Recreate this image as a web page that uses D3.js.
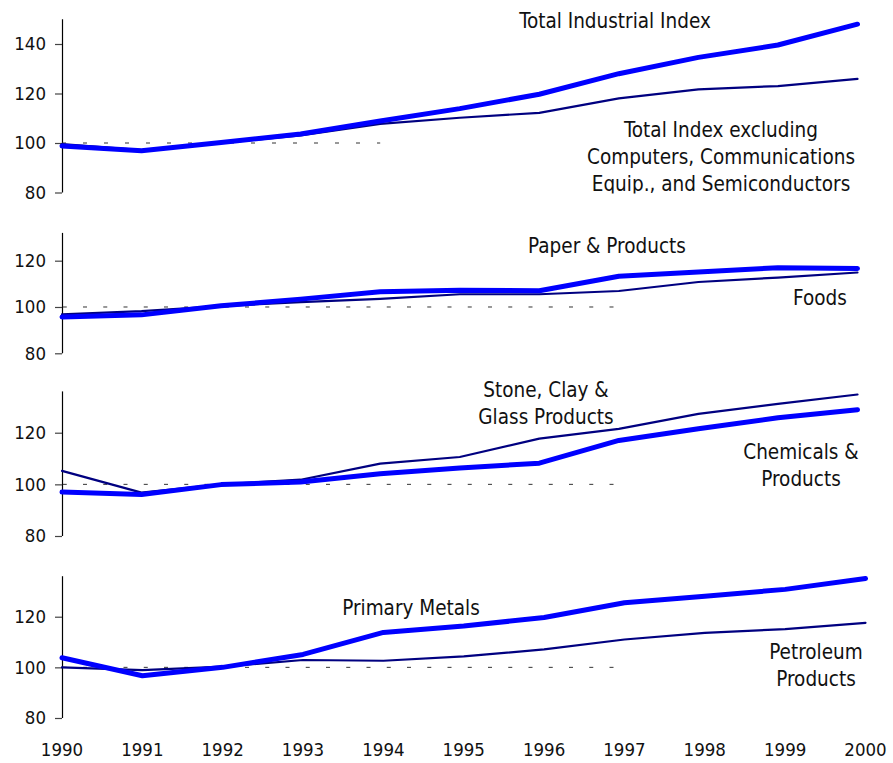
<!DOCTYPE html>
<html>
<head>
<meta charset="utf-8">
<script src="https://cdn.jsdelivr.net/npm/d3@7"></script>
<style>
  html, body { margin: 0; padding: 0; background: #fff; }
  svg text { font-family: "DejaVu Sans Condensed", "DejaVu Sans", sans-serif; fill: #111; }
</style>
</head>
<body>
<svg id="chart" width="893" height="763"></svg>
<script>
// Industrial production indexes, 1992 = 100
const years = [1990, 1991, 1992, 1993, 1994, 1995, 1996, 1997, 1998, 1999, 2000];

const totalIndex        = [98.8, 96.9, 100.2, 103.6, 108.9, 113.9, 119.7, 128.0, 134.6, 139.6, 148.0];
const totalExclHighTech = [99.6, 97.1, 100.0, 103.1, 107.7, 110.2, 112.2, 118.0, 121.7, 123.0, 125.9];

const paper = [95.7, 96.6, 100.5, 103.4, 106.6, 107.2, 107.0, 113.3, 115.1, 117.0, 116.6];
const foods = [96.8, 98.2, 100.4, 102.1, 103.5, 105.5, 105.5, 106.9, 110.8, 112.7, 114.9];

const stoneClay = [105.2, 96.8, 100.0, 101.8, 108.0, 110.6, 117.7, 121.5, 127.3, 131.2, 134.8];
const chemicals = [97.0, 96.1, 99.9, 100.9, 104.1, 106.3, 108.2, 117.0, 121.5, 125.8, 128.9];

const primaryMetals = [103.8, 96.7, 100.0, 105.1, 113.8, 116.3, 119.7, 125.5, 128.1, 130.8, 135.1];
const petroleum     = [100.0, 98.9, 100.3, 102.9, 102.6, 104.3, 107.1, 111.0, 113.6, 115.1, 117.6];

const yTicksTop = [80, 100, 120, 140];
const yTicks = [80, 100, 120];

const LABEL_SIZE = 20.5;
const TICK_SIZE = 18.5;

const svg = d3.select("#chart");

const panels = [
  {
    yDomain: [80, 150], yRange: [192.5, 19.25], xRange: [62, 857.5], ticks: yTicksTop,
    refEnd: 1994, dash: "4 17", dashOffset: -21,
    thick: totalIndex, thin: totalExclHighTech, clipBottom: 193.5,
    labels: [
      { lines: ["Total Industrial Index"], x: 615, y: 28 },
      { lines: ["Total Index excluding", "Computers, Communications", "Equip., and Semiconductors"], x: 721, y: 136.7 }
    ]
  },
  {
    yDomain: [80, 132], yRange: [353.3, 232.9], xRange: [62, 857.5], ticks: yTicks,
    refEnd: 1997, dash: "4 16.25", dashOffset: -21,
    thick: paper, thin: foods,
    labels: [
      { lines: ["Paper & Products"], x: 607, y: 253.3 },
      { lines: ["Foods"], x: 820, y: 305 }
    ]
  },
  {
    yDomain: [80, 136], yRange: [536, 391.4], xRange: [62, 857.5], ticks: yTicks,
    refEnd: 1997, dash: "4 16.25", dashOffset: -21,
    thick: chemicals, thin: stoneClay,
    labels: [
      { lines: ["Stone, Clay &", "Glass Products"], x: 546, y: 397.3 },
      { lines: ["Chemicals &", "Products"], x: 801, y: 459.3 }
    ]
  },
  {
    yDomain: [80, 136], yRange: [718, 576.2], xRange: [62, 865.5], ticks: yTicks,
    refEnd: 1997, dash: "4 16.25", dashOffset: -21,
    thick: primaryMetals, thin: petroleum, xAxis: true,
    labels: [
      { lines: ["Primary Metals"], x: 411, y: 615 },
      { lines: ["Petroleum", "Products"], x: 816, y: 659.3 }
    ]
  }
];

panels.forEach((p, i) => {
  const x = d3.scaleLinear().domain([years[0], years[years.length - 1]]).range(p.xRange);
  const y = d3.scaleLinear().domain(p.yDomain).range(p.yRange);
  const g = svg.append("g").attr("class", "panel-" + i);

  // y axis
  const axis = g.append("g")
    .attr("transform", `translate(${p.xRange[0]},0)`)
    .call(d3.axisLeft(y).tickValues(p.ticks).tickSize(7).tickPadding(9).tickFormat(d3.format("d")));
  axis.select(".domain").attr("stroke", "#000").attr("stroke-width", 1.2)
    .attr("d", `M0.5,${y(p.yDomain[1])}V${y(p.yDomain[0])}`);
  axis.selectAll(".tick line").attr("stroke", "#444").attr("stroke-width", 1.2);
  axis.selectAll(".tick text").attr("font-size", TICK_SIZE).attr("fill", "#111")
    .style("font-family", '"DejaVu Sans Condensed", "DejaVu Sans", sans-serif');

  // dashed baseline at 100
  g.append("line")
    .attr("x1", x(years[0])).attr("x2", x(p.refEnd))
    .attr("y1", y(100)).attr("y2", y(100))
    .attr("stroke", "#333").attr("stroke-width", 1)
    .attr("stroke-dasharray", p.dash).attr("stroke-dashoffset", p.dashOffset);

  const line = d3.line().x((d, j) => x(years[j])).y(d => y(d));

  g.append("path").datum(p.thin)
    .attr("d", line).attr("fill", "none")
    .attr("stroke", "#000080").attr("stroke-width", 2.2)
    .attr("stroke-linejoin", "round").attr("stroke-linecap", "round");

  g.append("path").datum(p.thick)
    .attr("d", line).attr("fill", "none")
    .attr("stroke", "#0000FF").attr("stroke-width", 5)
    .attr("stroke-linejoin", "round").attr("stroke-linecap", "round");

  // series labels
  const labelLayer = g.append("g");
  if (p.clipBottom) {
    svg.append("clipPath").attr("id", "clip-" + i)
      .append("rect").attr("x", 0).attr("y", 0).attr("width", 893).attr("height", p.clipBottom);
    labelLayer.attr("clip-path", `url(#clip-${i})`);
  }
  p.labels.forEach(lb => {
    const t = labelLayer.append("text")
      .attr("text-anchor", "middle").attr("font-size", LABEL_SIZE);
    lb.lines.forEach((s, k) => {
      t.append("tspan").attr("x", lb.x).attr("y", lb.y + k * 27).text(s);
    });
  });

  // year labels under the bottom panel
  if (p.xAxis) {
    g.selectAll(".year").data(years).join("text")
      .attr("class", "year")
      .attr("x", d => x(d)).attr("y", 756)
      .attr("text-anchor", "middle").attr("font-size", TICK_SIZE)
      .text(d => d);
  }
});
</script>
</body>
</html>
